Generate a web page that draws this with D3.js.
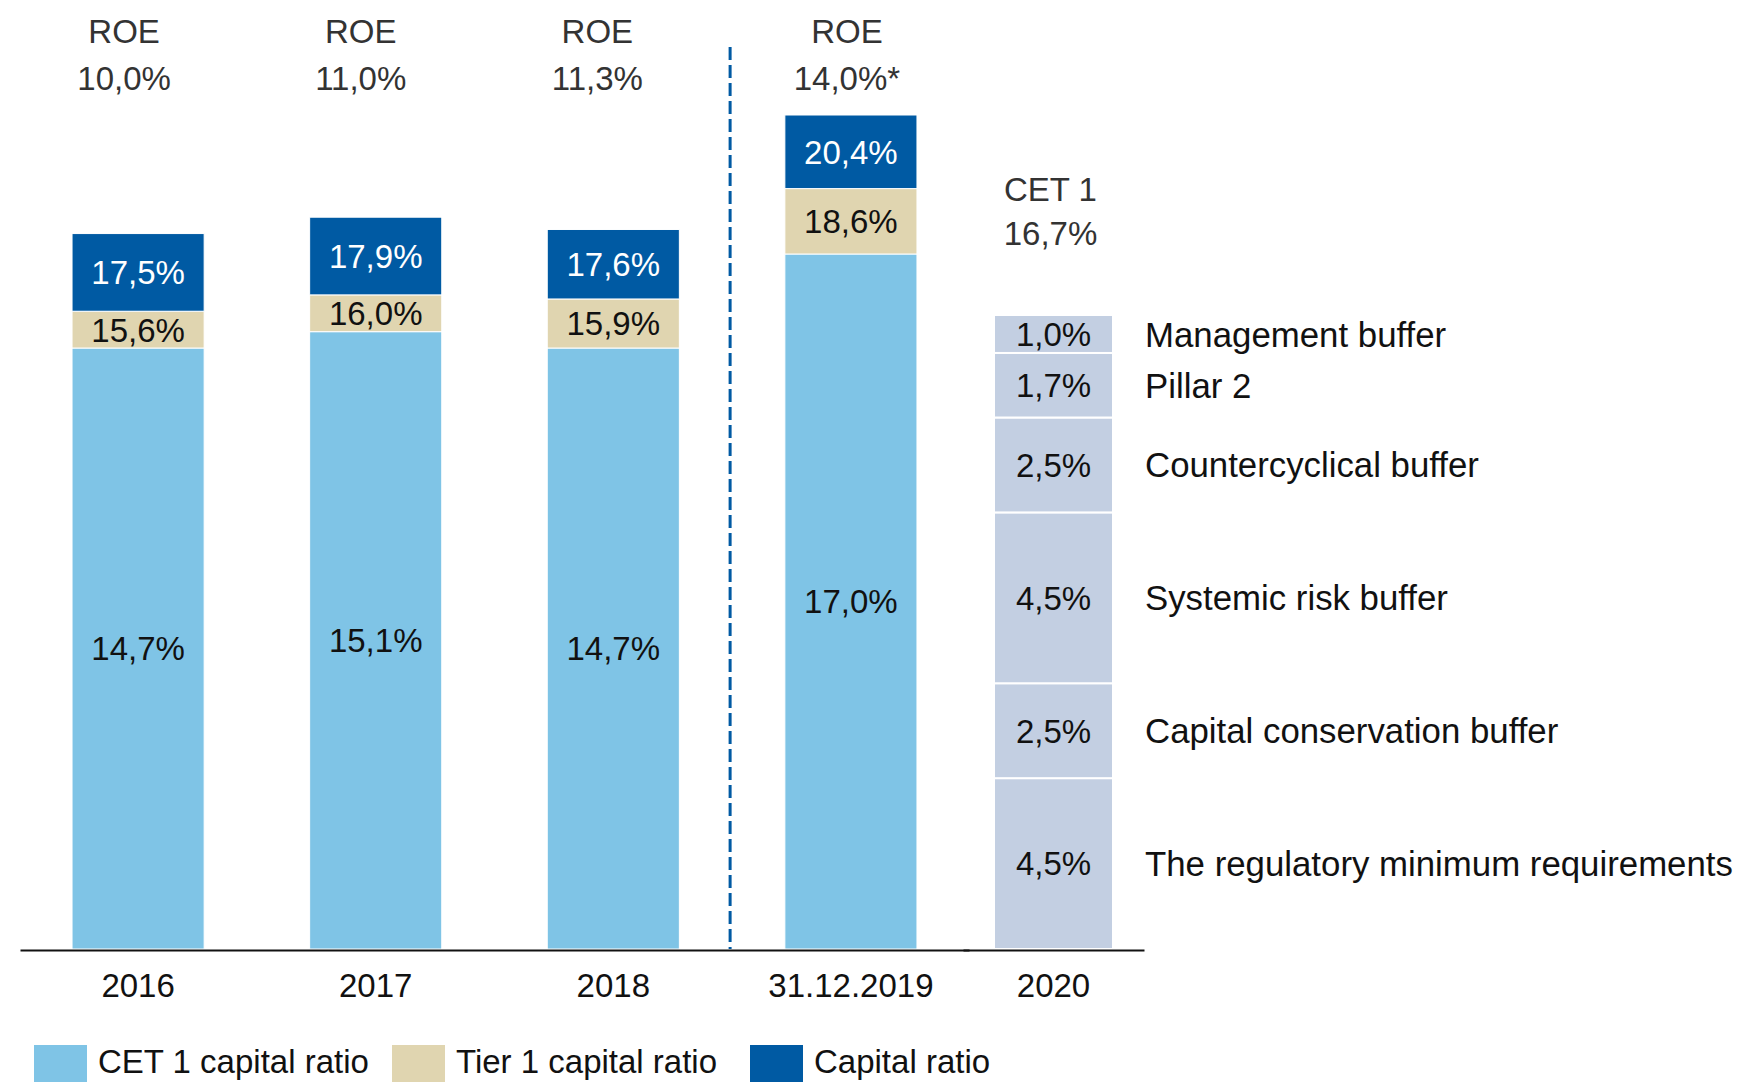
<!DOCTYPE html>
<html>
<head>
<meta charset="utf-8">
<script src="https://cdn.jsdelivr.net/npm/d3@7"></script>
<style>
  body { margin: 0; background: #fff; }
  svg text { font-family: "Liberation Sans", Arial, sans-serif; }
</style>
</head>
<body>
<svg id="chart" width="1741" height="1082"></svg>
<script>

// values
var years = ["2016", "2017", "2018", "31.12.2019"];
var cet1Ratio = [14.7, 15.1, 14.7, 17.0];
var tier1Ratio = [15.6, 16.0, 15.9, 18.6];
var capitalRatio = [17.5, 17.9, 17.6, 20.4];
var roeLabels = ["10,0%", "11,0%", "11,3%", "14,0%*"];

// 2020 requirement, bottom to top
var reqNames = ["The regulatory minimum requirements", "Capital conservation buffer",
  "Systemic risk buffer", "Countercyclical buffer", "Pillar 2", "Management buffer"];
var reqValues = [4.5, 2.5, 4.5, 2.5, 1.7, 1.0];
var reqYear = "2020";

var legendNames = ["CET 1 capital ratio", "Tier 1 capital ratio", "Capital ratio"];

var colCet1 = "#7fc4e6", colTier1 = "#e0d5b0", colCap = "#005aa3", colReq = "#c3cfe2";

var fmt = function (v) { return d3.format(".1f")(v).replace(".", ",") + "%"; };

var svg = d3.select("#chart");
var baseY = 949;
var fs = 33;

// left part (history), own scale
var x = d3.scaleBand().domain(years).range([20, 969]).paddingInner(0.444).paddingOuter(0.219);
var y = d3.scaleLinear().domain([0, d3.max(capitalRatio)]).range([baseY, 115]);

// right part (2020 requirement) is drawn on a slightly different scale
var reqTotal = d3.sum(reqValues);
var x2 = d3.scaleBand().domain([reqYear]).range([963, 1144]).padding(0.2066);
var y2 = d3.scaleLinear().domain([0, reqTotal]).range([baseY, 315]);

// build segments for stacked bars
var segs = [];
years.forEach(function (yr, i) {
  segs.push({ yr: yr, lo: 0, hi: cet1Ratio[i], col: colCet1, txt: "#111" });
  segs.push({ yr: yr, lo: cet1Ratio[i], hi: tier1Ratio[i], col: colTier1, txt: "#111" });
  segs.push({ yr: yr, lo: tier1Ratio[i], hi: capitalRatio[i], col: colCap, txt: "#fff" });
});

var g = svg.append("g");
g.selectAll("rect.bar")
  .data(segs)
  .enter().append("rect")
    .attr("class", "bar")
    .attr("x", function (d) { return x(d.yr); })
    .attr("width", x.bandwidth())
    .attr("y", function (d) { return y(d.hi); })
    .attr("height", function (d) { return y(d.lo) - y(d.hi); })
    .attr("fill", function (d) { return d.col; })
    .attr("stroke", "#fff")
    .attr("stroke-width", 1);

g.selectAll("text.val")
  .data(segs)
  .enter().append("text")
    .attr("class", "val")
    .attr("x", function (d) { return x(d.yr) + x.bandwidth() / 2; })
    .attr("y", function (d) { return (y(d.lo) + y(d.hi)) / 2; })
    .attr("dy", "0.36em")
    .attr("text-anchor", "middle")
    .attr("font-size", fs)
    .attr("fill", function (d) { return d.txt; })
    .text(function (d) { return fmt(d.hi); });

// ROE above each bar
var roeShift = [-14, -15, -16, -4];
var roe = g.selectAll("g.roe")
  .data(years)
  .enter().append("g")
    .attr("class", "roe")
    .attr("transform", function (d, i) { return "translate(" + (x(d) + x.bandwidth() / 2 + roeShift[i]) + ",0)"; });
roe.append("text").attr("y", 43).attr("text-anchor", "middle").attr("font-size", fs).attr("fill", "#333").text("ROE");
roe.append("text").attr("y", 90).attr("text-anchor", "middle").attr("font-size", fs).attr("fill", "#333")
  .text(function (d, i) { return roeLabels[i]; });

// 2020 requirement stack
var acc = 0;
var reqSegs = reqValues.map(function (v, i) {
  var s = { name: reqNames[i], v: v, lo: acc, hi: acc + v };
  acc += v;
  return s;
});

g.selectAll("rect.req")
  .data(reqSegs)
  .enter().append("rect")
    .attr("class", "req")
    .attr("x", x2(reqYear))
    .attr("width", x2.bandwidth())
    .attr("y", function (d) { return y2(d.hi); })
    .attr("height", function (d) { return y2(d.lo) - y2(d.hi); })
    .attr("fill", colReq)
    .attr("stroke", "#fff")
    .attr("stroke-width", 2);

g.selectAll("text.reqv")
  .data(reqSegs)
  .enter().append("text")
    .attr("class", "reqv")
    .attr("x", x2(reqYear) + x2.bandwidth() / 2)
    .attr("y", function (d) { return (y2(d.lo) + y2(d.hi)) / 2; })
    .attr("dy", "0.36em")
    .attr("text-anchor", "middle")
    .attr("font-size", fs)
    .attr("fill", "#111")
    .text(function (d) { return fmt(d.v); });

g.selectAll("text.reqn")
  .data(reqSegs)
  .enter().append("text")
    .attr("class", "reqn")
    .attr("x", 1145)
    .attr("y", function (d) { return (y2(d.lo) + y2(d.hi)) / 2; })
    .attr("dy", "0.36em")
    .attr("font-size", 34.8)
    .attr("fill", "#111")
    .text(function (d) { return d.name; });

var cx2 = x2(reqYear) + x2.bandwidth() / 2;
g.append("text").attr("x", cx2 - 3).attr("y", 201).attr("text-anchor", "middle").attr("font-size", fs).attr("fill", "#333").text("CET 1");
g.append("text").attr("x", cx2 - 3).attr("y", 245).attr("text-anchor", "middle").attr("font-size", fs).attr("fill", "#333").text(fmt(reqTotal));

// dashed separator between history and 2019
var sepX = (x(years[2]) + x.bandwidth() + x(years[3])) / 2 - 2;
g.append("line")
  .attr("x1", sepX).attr("x2", sepX)
  .attr("y1", 47).attr("y2", baseY)
  .attr("stroke", colCap)
  .attr("stroke-width", 3)
  .attr("stroke-dasharray", "13,5");

// Add the X Axes
function styleAxis(sel) {
  sel.select(".domain").attr("stroke", "#111").attr("stroke-width", 2);
  sel.selectAll(".tick text").attr("font-size", fs).attr("fill", "#111")
    .attr("font-family", "Liberation Sans, Arial, sans-serif");
}
svg.append("g")
  .attr("transform", "translate(0," + (baseY + 1) + ")")
  .call(d3.axisBottom(x).tickSize(0).tickPadding(24).tickSizeOuter(0))
  .call(styleAxis);
svg.append("g")
  .attr("transform", "translate(0," + (baseY + 1) + ")")
  .call(d3.axisBottom(x2).tickSize(0).tickPadding(24).tickSizeOuter(0))
  .call(styleAxis);

// legend (sits at the very bottom edge, as in the original)
var legX = [34, 392, 750];
var legCols = [colCet1, colTier1, colCap];
var leg = svg.selectAll("g.leg")
  .data(legendNames)
  .enter().append("g")
    .attr("class", "leg")
    .attr("transform", function (d, i) { return "translate(" + legX[i] + ",1045)"; });
leg.append("rect").attr("width", 53).attr("height", 37).attr("fill", function (d, i) { return legCols[i]; });
leg.append("text").attr("x", 64).attr("y", 28).attr("font-size", fs).attr("fill", "#111").text(function (d) { return d; });

</script>
</body>
</html>
